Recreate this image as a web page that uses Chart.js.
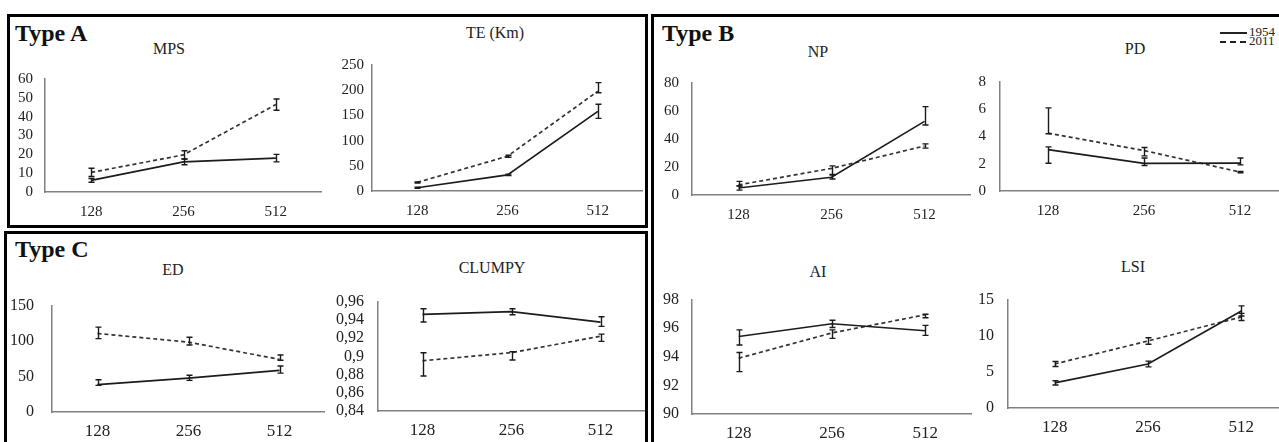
<!DOCTYPE html>
<html>
<head>
<meta charset="utf-8">
<script src="https://cdn.jsdelivr.net/npm/chart.js@4.4.1/dist/chart.umd.min.js"></script>
<style>
  html, body { margin: 0; padding: 0; background: #fff; }
  body { width: 1279px; height: 442px; overflow: hidden; position: relative; font-family: "Liberation Serif", "DejaVu Serif", "Times New Roman", serif; color: #111; }
  .frame { position: absolute; border: 3px solid #000; box-sizing: border-box; }
  .type { position: absolute; font-weight: bold; font-size: 24px; line-height: 24px; white-space: nowrap; }
  .title { position: absolute; font-size: 16px; line-height: 16px; transform: translate(-50%, -50%); white-space: nowrap; color: #222; }
  .legend { position: absolute; color: #222; }
  .legend div { position: relative; height: 9px; }
  .legend span.ln { position: absolute; left: 0; top: 4px; width: 27px; height: 2px; }
  .legend span.tx { position: absolute; left: 29px; top: -3px; font-size: 13px; line-height: 13px; }
  canvas { position: absolute; }
</style>
</head>
<body>

<div class="frame" style="left:7px;top:14px;width:641px;height:214px"></div>
<div class="frame" style="left:4px;top:231px;width:644px;height:230px"></div>
<div class="frame" style="left:651px;top:14px;width:700px;height:460px"></div>

<div class="type" style="left:15px;top:21px">Type A</div>
<div class="type" style="left:662px;top:21px">Type B</div>
<div class="type" style="left:15px;top:237px">Type C</div>

<div class="legend" style="left:1220px;top:28px">
  <div><span class="ln" style="background:#222"></span><span class="tx">1954</span></div>
  <div><span class="ln" style="background:repeating-linear-gradient(90deg,#222 0 6px,transparent 6px 10px)"></span><span class="tx">2011</span></div>
</div>

<script>
const serif = '"Liberation Serif", "DejaVu Serif", "Times New Roman", serif';
Chart.defaults.font.family = serif;

const xLabels = ['128', '256', '512'];

// MPS
const mps1954 = [6.2, 16, 18];
const mps2011 = [10.4, 19.7, 46.4];
const mpsErr1954 = [[1, 1], [1.5, 1.5], [2, 2]];
const mpsErr2011 = [[2.2, 2.2], [2.2, 2.2], [3, 3]];

// TE (Km)
const te1954 = [6.4, 32, 158];
const te2011 = [17, 69, 198];
const teErr1954 = [[1, 1], [1.5, 1.5], [14, 14]];
const teErr2011 = [[1, 1], [2, 2], [3, 17]];

// NP
const np1954 = [5, 12.7, 52.6];
const np2011 = [7.2, 19, 35];
const npErr1954 = [[1.5, 1.5], [1.3, 2], [2.6, 10.5]];
const npErr2011 = [[0.8, 2.5], [4.8, 1.8], [1.5, 1.5]];

// PD
const pd1954 = [3.04, 2.03, 2.05];
const pd2011 = [4.25, 2.97, 1.39];
const pdErr1954 = [[1.0, 0.2], [0.16, 0.39], [0.13, 0.37]];
const pdErr2011 = [[0.05, 1.85], [0.39, 0.22], [0.05, 0.05]];

// ED
const ed1954 = [38.5, 47.8, 58.8];
const ed2011 = [110.7, 98.5, 74.2];
const edErr1954 = [[1, 7], [3.2, 4.1], [4, 6]];
const edErr2011 = [[7.3, 8.9], [4.1, 6.9], [1.2, 6.1]];

// CLUMPY
const clumpy1954 = [0.9459, 0.9489, 0.9374];
const clumpy2011 = [0.8951, 0.904, 0.922];
const clumpyErr1954 = [[0.0082, 0.0062], [0.0033, 0.0032], [0.0046, 0.0059]];
const clumpyErr2011 = [[0.0167, 0.0088], [0.008, 0.001], [0.0056, 0.0023]];

// AI
const ai1954 = [95.42, 96.31, 95.82];
const ai2011 = [93.9, 95.67, 96.94];
const aiErr1954 = [[0.59, 0.46], [0.26, 0.25], [0.32, 0.38]];
const aiErr2011 = [[0.94, 0.4], [0.38, 0.21], [0.21, 0.04]];

// LSI
const lsi1954 = [3.48, 6.09, 13.43];
const lsi2011 = [6.09, 9.28, 12.6];
const lsiErr1954 = [[0.3, 0.3], [0.4, 0.4], [0.7, 0.7]];
const lsiErr2011 = [[0.35, 0.35], [0.45, 0.45], [0.5, 0.5]];

const commaFmt = v => Number(v.toFixed(2)).toString().replace('.', ',');

const panels = [
  { title: 'MPS', tx: 169, ty: 49, min: 0, max: 60, step: 10, a: mps1954, b: mps2011, ea: mpsErr1954, eb: mpsErr2011,
    axis: { left: 45, top: 70, right: 322, bottom: 192 }, gap: 12, row: 0 },
  { title: 'TE (Km)', tx: 495, ty: 33, min: 0, max: 250, step: 50, a: te1954, b: te2011, ea: teErr1954, eb: teErr2011,
    axis: { left: 372, top: 60, right: 643, bottom: 191 }, gap: 8, row: 0 },
  { title: 'NP', tx: 818, ty: 52, min: 0, max: 80, step: 20, a: np1954, b: np2011, ea: npErr1954, eb: npErr2011,
    axis: { left: 692, top: 73, right: 971, bottom: 195 }, gap: 13, row: 0 },
  { title: 'PD', tx: 1135, ty: 49, min: 0, max: 8, step: 2, a: pd1954, b: pd2011, ea: pdErr1954, eb: pdErr2011,
    axis: { left: 1000, top: 71, right: 1288, bottom: 191 }, gap: 14, row: 0 },
  { title: 'ED', tx: 173, ty: 270, min: 0, max: 150, step: 50, a: ed1954, b: ed2011, ea: edErr1954, eb: edErr2011,
    axis: { left: 52, top: 290, right: 325, bottom: 412 }, gap: 18, row: 1 },
  { title: 'CLUMPY', tx: 492, ty: 268, min: 0.84, max: 0.96, step: 0.02, a: clumpy1954, b: clumpy2011, ea: clumpyErr1954, eb: clumpyErr2011,
    axis: { left: 378, top: 290, right: 645, bottom: 411 }, gap: 14, row: 1, fmt: commaFmt },
  { title: 'AI', tx: 818, ty: 272, min: 90, max: 98, step: 2, a: ai1954, b: ai2011, ea: aiErr1954, eb: aiErr2011,
    axis: { left: 692, top: 289, right: 972, bottom: 414 }, gap: 13, row: 1 },
  { title: 'LSI', tx: 1133, ty: 267, min: 0, max: 15, step: 5, a: lsi1954, b: lsi2011, ea: lsiErr1954, eb: lsiErr2011,
    axis: { left: 1008, top: 288, right: 1288, bottom: 408 }, gap: 14, row: 1 }
];

// vertical error bars with small caps, placed through the chart scales
const errorBars = {
  id: 'errorBars',
  afterDatasetsDraw(chart) {
    const ctx = chart.ctx;
    const yScale = chart.scales.y;
    chart.data.datasets.forEach((ds, i) => {
      const meta = chart.getDatasetMeta(i);
      ctx.save();
      ctx.strokeStyle = '#1a1a1a';
      ctx.lineWidth = 1.4;
      meta.data.forEach((pt, j) => {
        const [lo, hi] = ds.errors[j];
        const v = ds.data[j];
        const yTop = yScale.getPixelForValue(v + hi);
        const yBot = yScale.getPixelForValue(v - lo);
        const x = Math.round(pt.x) + 0.5;
        ctx.beginPath();
        ctx.moveTo(x, yTop); ctx.lineTo(x, yBot);
        ctx.moveTo(x - 3, yTop); ctx.lineTo(x + 3, yTop);
        ctx.moveTo(x - 3, yBot); ctx.lineTo(x + 3, yBot);
        ctx.stroke();
      });
      ctx.restore();
    });
  }
};

const YW = 48, PT = 12, XH = 34;

panels.forEach(p => {
  const t = document.createElement('div');
  t.className = 'title';
  t.style.left = p.tx + 'px';
  t.style.top = p.ty + 'px';
  t.textContent = p.title;
  document.body.appendChild(t);

  const left = p.axis.left - YW;
  const top = p.axis.top - PT;
  const w = p.axis.right - left;
  const h = p.axis.bottom + XH - top;
  const c = document.createElement('canvas');
  c.width = w; c.height = h;
  c.style.left = left + 'px';
  c.style.top = top + 'px';
  c.style.width = w + 'px';
  c.style.height = h + 'px';
  document.body.appendChild(c);

  const yFont = p.row ? 16 : 15;
  const xFont = p.row ? 17 : 15;

  new Chart(c, {
    type: 'line',
    data: {
      labels: xLabels,
      datasets: [
        { label: '1954', data: p.a, errors: p.ea, borderColor: '#1c1c1c', borderWidth: 1.7, pointRadius: 0, tension: 0, fill: false },
        { label: '2011', data: p.b, errors: p.eb, borderColor: '#333', borderWidth: 1.7, borderDash: [4, 3], pointRadius: 0, tension: 0, fill: false }
      ]
    },
    options: {
      responsive: false,
      animation: false,
      devicePixelRatio: 1,
      layout: { padding: { top: PT, left: 0, right: 0, bottom: 0 } },
      plugins: { legend: { display: false }, tooltip: { enabled: false } },
      scales: {
        x: {
          type: 'category',
          offset: true,
          grid: { display: false, drawTicks: false },
          border: { display: true, color: '#808080', width: 1.5 },
          ticks: { padding: p.row ? 9 : 11, color: '#222', maxRotation: 0, autoSkip: false,
                   font: { family: serif, size: xFont } },
          afterFit: s => { s.height = XH; }
        },
        y: {
          min: p.min, max: p.max,
          grid: { display: false, drawTicks: false },
          border: { display: true, color: '#808080', width: 1.5 },
          ticks: { stepSize: p.step, padding: p.gap, color: '#222', autoSkip: false,
                   font: { family: serif, size: yFont },
                   callback: p.fmt ? (v => p.fmt(v)) : (v => v) },
          afterFit: s => { s.width = YW; }
        }
      }
    },
    plugins: [errorBars]
  });
});
</script>
</body>
</html>
